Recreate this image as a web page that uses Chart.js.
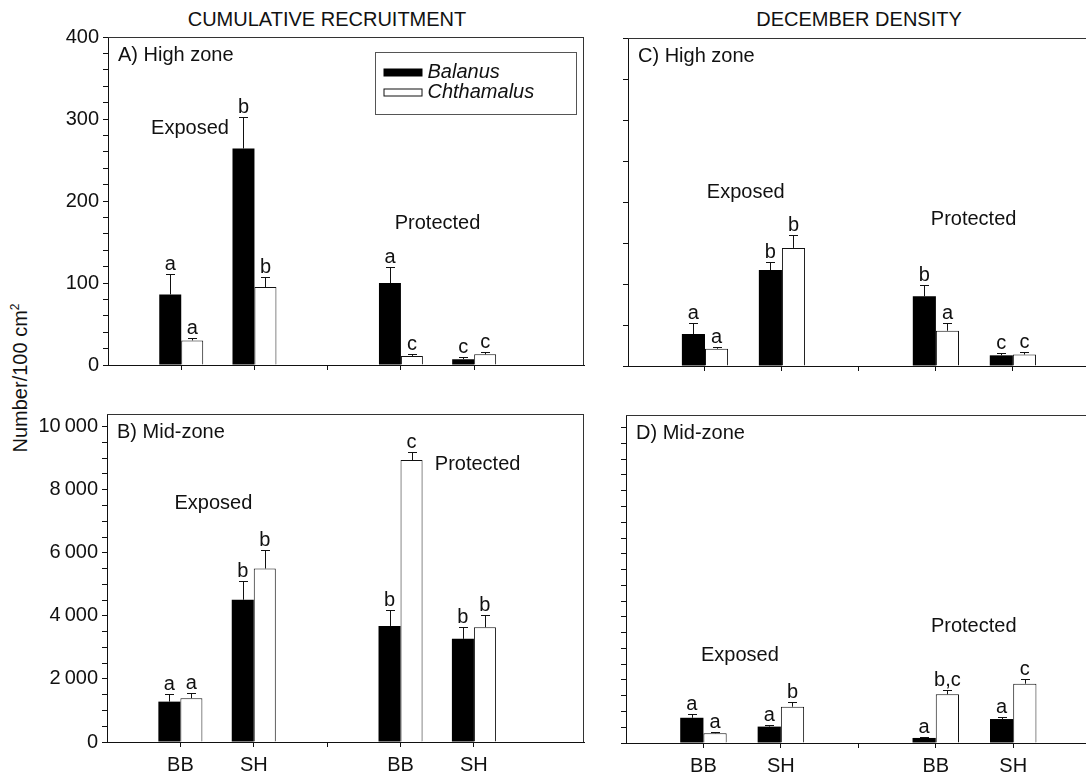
<!DOCTYPE html>
<html>
<head>
<meta charset="utf-8">
<title>Barnacle recruitment and density</title>
<script src="https://cdn.jsdelivr.net/npm/chart.js@4.4.1/dist/chart.umd.min.js"></script>
<style>
  html, body { margin: 0; padding: 0; background: #fff; overflow: hidden; }
  #figure { position: relative; width: 1086px; height: 776px; font-family: "Liberation Sans", Arial, sans-serif; color: #111; }
  #figure canvas { position: absolute; }
  .col-title { position: absolute; top: 8px; font-size: 20px; line-height: 22px; transform: translateX(-50%); white-space: nowrap; }
  #yTitle { position: absolute; left: 20px; top: 378px; font-size: 20px; line-height: 22px; transform: translate(-50%, -50%) rotate(-90deg); white-space: nowrap; }
  #yTitle sup { font-size: 12px; line-height: 0; }
</style>
</head>
<body>
<div id="figure">
  <div class="col-title" style="left:327px">CUMULATIVE RECRUITMENT</div>
  <div class="col-title" style="left:859px">DECEMBER DENSITY</div>
  <div id="yTitle">Number/100 cm<sup>2</sup></div>
  <canvas id="panelA" width="600" height="400" style="left:0;top:0"></canvas>
  <canvas id="panelB" width="600" height="396" style="left:0;top:380px"></canvas>
  <canvas id="panelC" width="526" height="400" style="left:560px;top:0"></canvas>
  <canvas id="panelD" width="526" height="396" style="left:560px;top:380px"></canvas>
</div>
<script>
// sites along the x axis: exposed BB, SH | protected BB, SH
const sitePositions = [1, 2, 4, 5]
const xTickPositions = [1, 2, 3, 4, 5]
const xTickLabels = ['BB', 'SH', '', 'BB', 'SH']

// A) cumulative recruitment, high zone
const recHighBalanus = [86, 264, 100, 7]
const recHighBalanusSE = [25, 38, 19, 3]
const recHighBalanusSig = ['a', 'b', 'a', 'c']
const recHighChthamalus = [30, 95, 11, 13]
const recHighChthamalusSE = [3, 12, 2, 3]
const recHighChthamalusSig = ['a', 'b', 'c', 'c']

// B) cumulative recruitment, mid-zone
const recMidBalanus = [1280, 4510, 3680, 3270]
const recMidBalanusSE = [230, 600, 510, 390]
const recMidBalanusSig = ['a', 'b', 'b', 'b']
const recMidChthamalus = [1390, 5500, 8940, 3640]
const recMidChthamalusSE = [160, 590, 245, 390]
const recMidChthamalusSig = ['a', 'b', 'c', 'b']

// C) December density, high zone
const decHighBalanus = [39, 117, 85, 13]
const decHighBalanusSE = [13, 10, 14, 3]
const decHighBalanusSig = ['a', 'b', 'b', 'c']
const decHighChthamalus = [21, 144, 43, 14]
const decHighChthamalusSE = [2, 16, 9, 3]
const decHighChthamalusSig = ['a', 'b', 'a', 'c']

// D) December density, mid-zone
const decMidBalanus = [800, 520, 160, 760]
const decMidBalanusSE = [130, 55, 30, 75]
const decMidBalanusSig = ['a', 'a', 'a', 'a']
const decMidChthamalus = [310, 1150, 1545, 1880]
const decMidChthamalusSE = [40, 150, 130, 140]
const decMidChthamalusSig = ['a', 'b', 'b,c', 'c']

// y axis tick labels
const highZoneLabels = [0, 100, 200, 300, 400]
const midZoneLabels = [0, 2000, 4000, 6000, 8000, 10000]

const FONT = '"Liberation Sans", Arial, sans-serif'
const INK = '#111'
Chart.defaults.font.family = FONT
Chart.defaults.font.size = 20
Chart.defaults.color = INK

function fmtThousands(v) {
  return String(v).replace(/\B(?=(\d{3})+(?!\d))/g, '\u2009')
}

function toPoints(values) {
  return values.map((v, i) => ({ x: sitePositions[i], y: v }))
}

// error bars + significance letters on top of every bar
const errorBarPlugin = {
  id: 'errorBars',
  afterDatasetsDraw(chart) {
    const ctx = chart.ctx
    const y = chart.scales.y
    ctx.save()
    ctx.strokeStyle = INK
    ctx.lineWidth = 1
    ctx.fillStyle = INK
    ctx.font = '20px ' + FONT
    ctx.textAlign = 'center'
    ctx.textBaseline = 'alphabetic'
    chart.data.datasets.forEach((ds, di) => {
      const meta = chart.getDatasetMeta(di)
      meta.data.forEach((bar, i) => {
        const mean = ds.data[i].y
        const top = Math.round(y.getPixelForValue(mean + ds.se[i])) + 0.5
        const x = Math.round(bar.x) + 0.5
        ctx.beginPath()
        ctx.moveTo(x, bar.y)
        ctx.lineTo(x, top)
        ctx.moveTo(x - 4.5, top)
        ctx.lineTo(x + 4.5, top)
        ctx.stroke()
        ctx.fillText(ds.sig[i], bar.x, top - 5)
      })
    })
    ctx.restore()
  }
}

// panel frame, panel name, site-group names, optional legend box
const decorPlugin = {
  id: 'decor',
  afterDraw(chart, args, opts) {
    const { ctx, chartArea: a } = chart
    const x = chart.scales.x
    const y = chart.scales.y
    ctx.save()
    ctx.strokeStyle = '#333'
    ctx.lineWidth = 1
    ctx.beginPath()
    ctx.moveTo(a.left, a.top + 0.5)
    ctx.lineTo(a.right, a.top + 0.5)
    if (opts.frameRight) {
      ctx.moveTo(a.right - 0.5, a.top)
      ctx.lineTo(a.right - 0.5, a.bottom)
    }
    ctx.stroke()

    ctx.fillStyle = INK
    ctx.font = '20px ' + FONT
    ctx.textBaseline = 'middle'
    ctx.textAlign = 'left'
    ctx.fillText(opts.title, a.left + 10, a.top + 18)

    ctx.textAlign = 'center'
    opts.groups.forEach(g => {
      ctx.fillText(g.text, x.getPixelForValue(g.x), y.getPixelForValue(g.y))
    })

    if (opts.legend) {
      const w = 201, h = 62
      const lx = a.right - 8 - w + 0.5
      const ly = a.top + 15 + 0.5
      ctx.strokeStyle = '#555'
      ctx.strokeRect(lx, ly, w, h)
      ctx.font = 'italic 20px ' + FONT
      ctx.textAlign = 'left'
      chart.data.datasets.forEach((ds, i) => {
        const sy = ly + 16 + i * 20
        ctx.fillStyle = ds.backgroundColor
        ctx.fillRect(lx + 8, sy, 39, 8)
        if (ds.borderWidth) {
          ctx.strokeStyle = ds.borderColor
          ctx.strokeRect(lx + 8.5, sy + 0.5, 38, 7)
        }
        ctx.fillStyle = INK
        ctx.fillText(ds.label, lx + 52, sy + 4)
      })
    }
    ctx.restore()
  }
}

function makePanel(id, cfg) {
  const datasets = [
    { label: 'Balanus', data: toPoints(cfg.balanus), se: cfg.balanusSE, sig: cfg.balanusSig,
      backgroundColor: '#000', borderWidth: 0 },
    { label: 'Chthamalus', data: toPoints(cfg.chthamalus), se: cfg.chthamalusSE, sig: cfg.chthamalusSig,
      backgroundColor: '#fff', borderColor: '#111', borderWidth: 1 }
  ]
  return new Chart(document.getElementById(id), {
    type: 'bar',
    data: { datasets },
    plugins: [errorBarPlugin, decorPlugin],
    options: {
      responsive: false,
      animation: false,
      events: [],
      categoryPercentage: 0.6,
      barPercentage: 1.0,
      layout: { padding: { top: cfg.padTop, right: cfg.padRight, left: 0, bottom: 0 } },
      plugins: {
        legend: { display: false },
        tooltip: { enabled: false },
        decor: { title: cfg.title, groups: cfg.groups, legend: !!cfg.legend, frameRight: cfg.padRight > 0 }
      },
      scales: {
        x: {
          type: 'linear', min: 0, max: cfg.xMax, offset: false,
          grid: { offset: false, drawOnChartArea: false, drawTicks: true, tickLength: 5, color: INK },
          border: { color: INK, width: 1 },
          afterBuildTicks: s => { s.ticks = xTickPositions.map(v => ({ value: v })) },
          afterFit: s => { s.height = cfg.xHeight },
          ticks: {
            display: cfg.xLabels, padding: 6, maxRotation: 0, autoSkip: false,
            callback: (v, i) => xTickLabels[i]
          }
        },
        y: {
          min: 0, max: cfg.yMax,
          grid: { drawOnChartArea: false, drawTicks: true, tickLength: 5, color: INK },
          border: { color: INK, width: 1 },
          afterFit: s => { s.width = cfg.yWidth },
          // minor ticks every yStep, labels only on the listed values
          afterBuildTicks: s => {
            const t = []
            for (let k = 0; k * cfg.yStep <= cfg.yMax; k++) t.push({ value: k * cfg.yStep })
            s.ticks = t
          },
          ticks: {
            padding: 4, autoSkip: false,
            callback: v => (cfg.yLabels && cfg.yLabels.includes(v)) ? fmtThousands(v) : ''
          }
        }
      }
    }
  })
}

makePanel('panelA', {
  title: 'A) High zone', legend: true,
  balanus: recHighBalanus, balanusSE: recHighBalanusSE, balanusSig: recHighBalanusSig,
  chthamalus: recHighChthamalus, chthamalusSE: recHighChthamalusSE, chthamalusSig: recHighChthamalusSig,
  groups: [{ text: 'Exposed', x: 1.12, y: 289 }, { text: 'Protected', x: 4.5, y: 173 }],
  xMax: 6.5, yMax: 400, yStep: 20, yLabels: highZoneLabels, xLabels: false,
  padTop: 37, padRight: 16, yWidth: 108, xHeight: 35
})

makePanel('panelB', {
  title: 'B) Mid-zone',
  balanus: recMidBalanus, balanusSE: recMidBalanusSE, balanusSig: recMidBalanusSig,
  chthamalus: recMidChthamalus, chthamalusSE: recMidChthamalusSE, chthamalusSig: recMidChthamalusSig,
  groups: [{ text: 'Exposed', x: 1.45, y: 7556 }, { text: 'Protected', x: 5.05, y: 8794 }],
  xMax: 6.5, yMax: 10400, yStep: 500, yLabels: midZoneLabels, xLabels: true,
  padTop: 34, padRight: 16, yWidth: 107, xHeight: 34
})

makePanel('panelC', {
  title: 'C) High zone',
  balanus: decHighBalanus, balanusSE: decHighBalanusSE, balanusSig: decHighBalanusSig,
  chthamalus: decHighChthamalus, chthamalusSE: decHighChthamalusSE, chthamalusSig: decHighChthamalusSig,
  groups: [{ text: 'Exposed', x: 1.53, y: 211 }, { text: 'Protected', x: 4.49, y: 179 }],
  xMax: 5.95, yMax: 400, yStep: 50, yLabels: null, xLabels: false,
  padTop: 38, padRight: 0, yWidth: 68, xHeight: 34
})

makePanel('panelD', {
  title: 'D) Mid-zone',
  balanus: decMidBalanus, balanusSE: decMidBalanusSE, balanusSig: decMidBalanusSig,
  chthamalus: decMidChthamalus, chthamalusSE: decMidChthamalusSE, chthamalusSig: decMidChthamalusSig,
  groups: [{ text: 'Exposed', x: 1.47, y: 2762 }, { text: 'Protected', x: 4.49, y: 3683 }],
  xMax: 5.94, yMax: 10400, yStep: 500, yLabels: null, xLabels: true,
  padTop: 35, padRight: 0, yWidth: 66, xHeight: 33
})
</script>
</body>
</html>
